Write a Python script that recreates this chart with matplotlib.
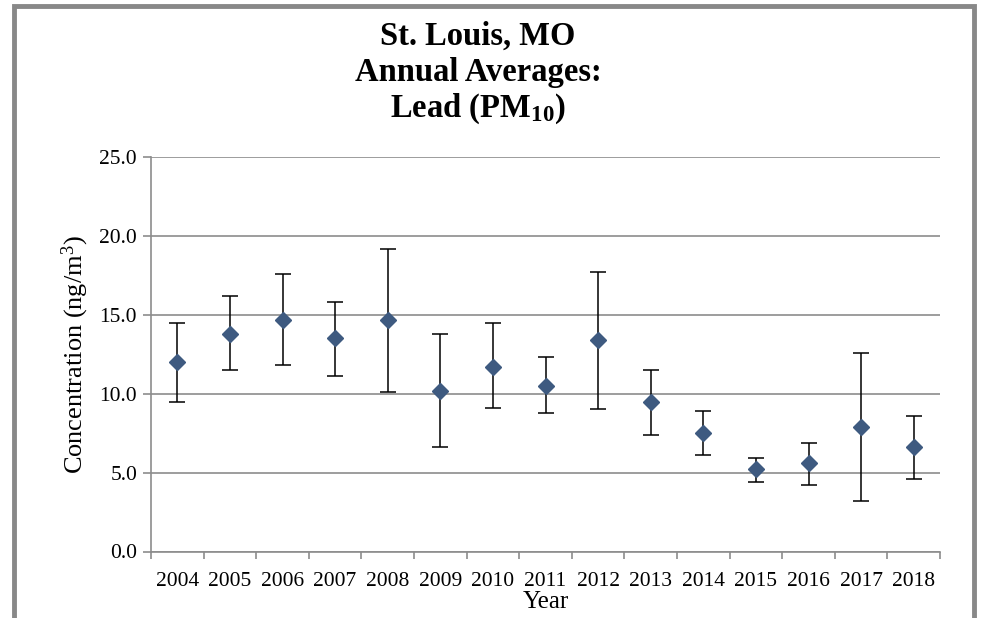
import matplotlib
matplotlib.use("Agg")
import matplotlib.pyplot as plt
from matplotlib.patches import Rectangle

plt.rcParams["font.family"] = ["Liberation Serif", "DejaVu Serif"]
plt.rcParams["mathtext.fontset"] = "custom"
plt.rcParams["mathtext.rm"] = "Liberation Serif"
plt.rcParams["mathtext.it"] = "Liberation Serif:italic"
plt.rcParams["mathtext.bf"] = "Liberation Serif:bold"

years = ["2004", "2005", "2006", "2007", "2008", "2009", "2010", "2011",
         "2012", "2013", "2014", "2015", "2016", "2017", "2018"]
means = [12.0, 13.8, 14.7, 13.5, 14.7, 10.2, 11.7, 10.5,
         13.4, 9.5, 7.5, 5.2, 5.6, 7.9, 6.6]
upper = [14.5, 16.2, 17.6, 15.8, 19.2, 13.8, 14.5, 12.3,
         17.7, 11.5, 8.9, 5.9, 6.9, 12.6, 8.6]
lower = [9.5, 11.5, 11.8, 11.1, 10.1, 6.6, 9.1, 8.8,
         9.0, 7.4, 6.1, 4.4, 4.2, 3.2, 4.6]

grid_col = "#8c8c8c"
marker_col = "#3e5a80"

fig = plt.figure(figsize=(9.83, 6.18), dpi=100)
fig.patch.set_facecolor("white")

# outer chart frame (bottom edge runs off the image)
fig.patches.append(Rectangle((14 / 983, -0.05), 960 / 983, 1.05 - 6 / 618,
                             transform=fig.transFigure, fill=False,
                             edgecolor="#888888", linewidth=3.5))

ax = fig.add_axes([151 / 983, 1 - 551.5 / 618, 789 / 983, 394.5 / 618])

x = list(range(len(years)))
err_lo = [m - lo for m, lo in zip(means, lower)]
err_hi = [hi - m for m, hi in zip(means, upper)]
ax.errorbar(x, means, yerr=[err_lo, err_hi], fmt="D", color=marker_col,
            markersize=8, ecolor="black", elinewidth=1.1, capsize=6,
            capthick=1.1, zorder=3)

ax.set_xlim(-0.5, len(years) - 0.5)
ax.set_ylim(0, 25)
ax.set_yticks([0, 5, 10, 15, 20, 25])
ax.set_yticklabels([f"{v:.1f}" for v in [0, 5, 10, 15, 20, 25]])
ax.set_xticks(x)
ax.set_xticklabels(years)
ax.set_xticks([i - 0.5 for i in range(len(years) + 1)], minor=True)
ax.tick_params(axis="x", which="major", length=0, labelsize=15.5, pad=15)
ax.tick_params(axis="x", which="minor", length=5, color=grid_col, width=1.2)
ax.tick_params(axis="y", length=6, color=grid_col, width=1.2, labelsize=15.5, pad=4)

ax.yaxis.grid(True, color=grid_col, linewidth=1.2)
ax.set_axisbelow(True)
for side in ["top", "right"]:
    ax.spines[side].set_visible(False)
for side in ["left", "bottom"]:
    ax.spines[side].set_color(grid_col)
    ax.spines[side].set_linewidth(1.2)

ax.set_xlabel("Year", fontsize=18, labelpad=0)
ax.set_ylabel("Concentration (ng/m$^{3}$)", fontsize=19, labelpad=6)

fig.text(478 / 983, 1 - 36 / 618, "St. Louis, MO", ha="center", va="center",
         fontsize=23.5, fontweight="bold")
fig.text(478 / 983, 1 - 73 / 618, "Annual Averages:", ha="center", va="center",
         fontsize=23.5, fontweight="bold")
fig.text(478 / 983, 1 - 109 / 618, r"Lead (PM$_{\mathbf{10}}$)", ha="center",
         va="center", fontsize=23.5, fontweight="bold")

fig.savefig("out.png", dpi=100)
